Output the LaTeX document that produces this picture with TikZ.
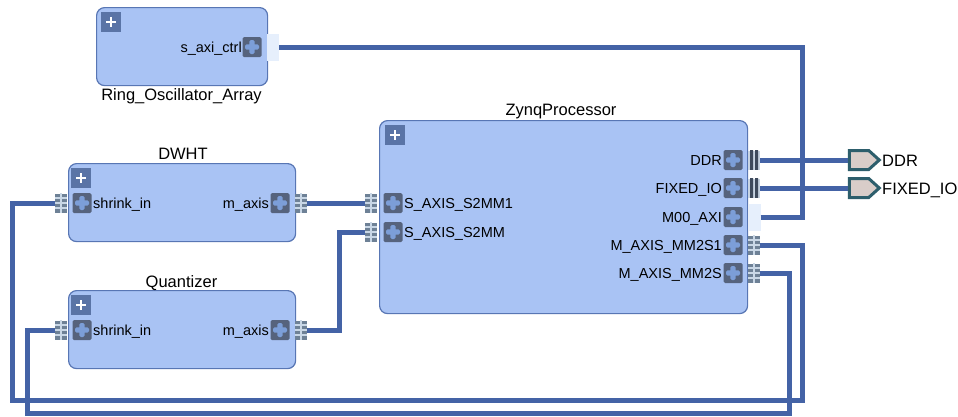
\documentclass[tikz,border=0pt]{standalone}
\usepackage{fontspec}
\setmainfont{Liberation Sans}
\usetikzlibrary{shapes.symbols,calc}
\definecolor{boxfill}{HTML}{A9C3F4}
\definecolor{boxline}{HTML}{5876B4}
\definecolor{wirec}{HTML}{4463A6}
\definecolor{plusc}{HTML}{5A74A6}
\definecolor{porticon}{HTML}{56637D}
\definecolor{portcross}{HTML}{7C9ED8}
\definecolor{lightc}{HTML}{E6EFFC}
\definecolor{extfill}{HTML}{D9CDC9}
\definecolor{extline}{HTML}{2D5E6C}
\definecolor{busbg}{HTML}{6E8196}
\definecolor{buslight}{HTML}{C9D7E6}
\definecolor{barbg}{HTML}{C8D4E2}
\definecolor{bardark}{HTML}{3E4A5C}
\begin{document}
\begin{tikzpicture}[x=1pt,y=-1pt,
  blk/.style={draw=boxline, fill=boxfill, line width=1.2pt, rounded corners=8pt, anchor=north west, inner sep=0pt},
  ttl/.style={font=\fontsize{16.5}{18}\selectfont, inner sep=0pt, anchor=base},
  plab/.style={font=\fontsize{14.5}{16}\selectfont, inner sep=0pt},
  exttxt/.style={font=\fontsize{16.5}{18}\selectfont, inner sep=0pt, anchor=base west},
  plusico/.style={fill=plusc, minimum size=20pt, inner sep=0pt,
    path picture={\draw[white, line width=2.3pt]
      ($(path picture bounding box.center)+(-5,0)$) -- ++(10,0)
      ($(path picture bounding box.center)+(0,-5)$) -- ++(0,10);}},
  pico/.style={fill=porticon, minimum width=19pt, minimum height=20pt, inner sep=0pt, rounded corners=1.5pt,
    path picture={\fill[portcross]
      ($(path picture bounding box.center)+(-7,-2.6)$) rectangle ++(14,5.2)
      ($(path picture bounding box.center)+(-2.6,-7)$) rectangle ++(5.2,14);}},
  busico/.style={fill=busbg, minimum width=12pt, minimum height=19pt, inner sep=0pt,
    path picture={\draw[buslight, line width=1.4pt]
      ($(path picture bounding box.center)+(-6,0)$) -- ++(12,0)
      ($(path picture bounding box.center)+(0,-10)$) -- ++(0,20)
      ($(path picture bounding box.center)+(-6,-5)$) -- ++(12,0)
      ($(path picture bounding box.center)+(-6,5)$) -- ++(12,0);}},
  barico/.style={fill=barbg, minimum width=12pt, minimum height=19pt, inner sep=0pt,
    path picture={\fill[bardark]
      ($(path picture bounding box.center)+(-4,-10)$) rectangle ++(3,20)
      ($(path picture bounding box.center)+(1,-10)$) rectangle ++(3,20);}},
  lightr/.style={fill=lightc, minimum width=12pt, minimum height=27pt, inner sep=0pt},
  extp/.style={signal, signal to=east, signal pointer angle=84, draw=extline, fill=extfill,
    line width=3pt, minimum width=30pt, minimum height=19pt, inner sep=0pt},
  wire/.style={draw=wirec, line width=5pt}
]
\useasboundingbox (0,0) rectangle (958,416);
\fill[white] (0,0) rectangle (958,416);

% ---------- Ring_Oscillator_Array ----------
\node[blk, minimum width=171pt, minimum height=78pt] (ring) at (96,7) {};
\node[ttl] (ringt) at (181.5,100) {Ring\_Oscillator\_Array};
\node[plusico] (ringp) at (111,22) {};
\node[pico] (ringpi) at (252,47) {};
\node[plab, anchor=base east] (ringpl) at (242,52.5) {s\_axi\_ctrl};
\node[lightr] (ringb) at (273,47) {};

% ---------- DWHT ----------
\node[blk, minimum width=227pt, minimum height=78pt] (dwht) at (68,163) {};
\node[ttl] (dwhtt) at (183,159) {DWHT};
\node[plusico] (dwhtp) at (81,178) {};
\node[pico] (dwin) at (82,203) {};
\node[plab, anchor=base west] (dwinl) at (93,208.5) {shrink\_in};
\node[busico] (dwinb) at (61,203) {};
\node[pico] (dwout) at (280,203) {};
\node[plab, anchor=base east] (dwoutl) at (269,208.5) {m\_axis};
\node[busico] (dwoutb) at (301,203) {};

% ---------- Quantizer ----------
\node[blk, minimum width=227pt, minimum height=78pt] (quan) at (68,290) {};
\node[ttl] (quant) at (181.5,287) {Quantizer};
\node[plusico] (quanp) at (81,305) {};
\node[pico] (qin) at (82,330) {};
\node[plab, anchor=base west] (qinl) at (93,335.5) {shrink\_in};
\node[busico] (qinb) at (61,330) {};
\node[pico] (qout) at (280,330) {};
\node[plab, anchor=base east] (qoutl) at (269,335.5) {m\_axis};
\node[busico] (qoutb) at (301,330) {};

% ---------- ZynqProcessor ----------
\node[blk, minimum width=368pt, minimum height=193pt] (zynq) at (379,120) {};
\node[ttl] (zynqt) at (561,115) {ZynqProcessor};
\node[plusico] (zynqp) at (395,135) {};
% left ports
\node[pico] (zs1) at (393,203) {};
\node[plab, anchor=base west] (zs1l) at (404,208.5) {S\_AXIS\_S2MM1};
\node[busico] (zs1b) at (371,203) {};
\node[pico] (zs2) at (393,232) {};
\node[plab, anchor=base west] (zs2l) at (404,237.5) {S\_AXIS\_S2MM};
\node[busico] (zs2b) at (371,232) {};
% right ports
\node[pico] (zddr) at (733,160) {};
\node[plab, anchor=base east] (zddrl) at (722,165.5) {DDR};
\node[barico] (zddrb) at (754,160) {};
\node[pico] (zfio) at (733,188) {};
\node[plab, anchor=base east] (zfiol) at (722,193.5) {FIXED\_IO};
\node[barico] (zfiob) at (754,188) {};
\node[pico] (zm00) at (733,217) {};
\node[plab, anchor=base east] (zm00l) at (722,222.5) {M00\_AXI};
\node[lightr] (zm00b) at (754.5,217) {};
\node[pico] (zmm1) at (733,245) {};
\node[plab, anchor=base east] (zmm1l) at (722,250.5) {M\_AXIS\_MM2S1};
\node[busico] (zmm1b) at (754,245) {};
\node[pico] (zmm) at (733,273) {};
\node[plab, anchor=base east] (zmml) at (722,278.5) {M\_AXIS\_MM2S};
\node[busico] (zmmb) at (754,273) {};

% ---------- external ports ----------
\node[extp] (extddr) at (859,160) {};
\node[exttxt] (extddrt) at (882,166) {DDR};
\node[extp] (extfio) at (859,188) {};
\node[exttxt] (extfiot) at (882,194) {FIXED\_IO};

% ---------- wires ----------
\draw[wire] (zddrb.east) -- (extddr.west);
\draw[wire] (zfiob.east) -- (extfio.west);
\draw[wire] (zm00b.east) -| ([xshift=523pt]ringb.east) -- (ringb.east);
\draw[wire] (dwoutb.east) -- (zs1b.west);
\draw[wire] (qoutb.east) -- ++(32,0) |- (zs2b.west);
\draw[wire] (zmm1b.east) -| (802,400) -| (12,203) -- (dwinb.west);
\draw[wire] (zmmb.east) -| (789,413) -| (27,330) -- (qinb.west);
\end{tikzpicture}
\end{document}
